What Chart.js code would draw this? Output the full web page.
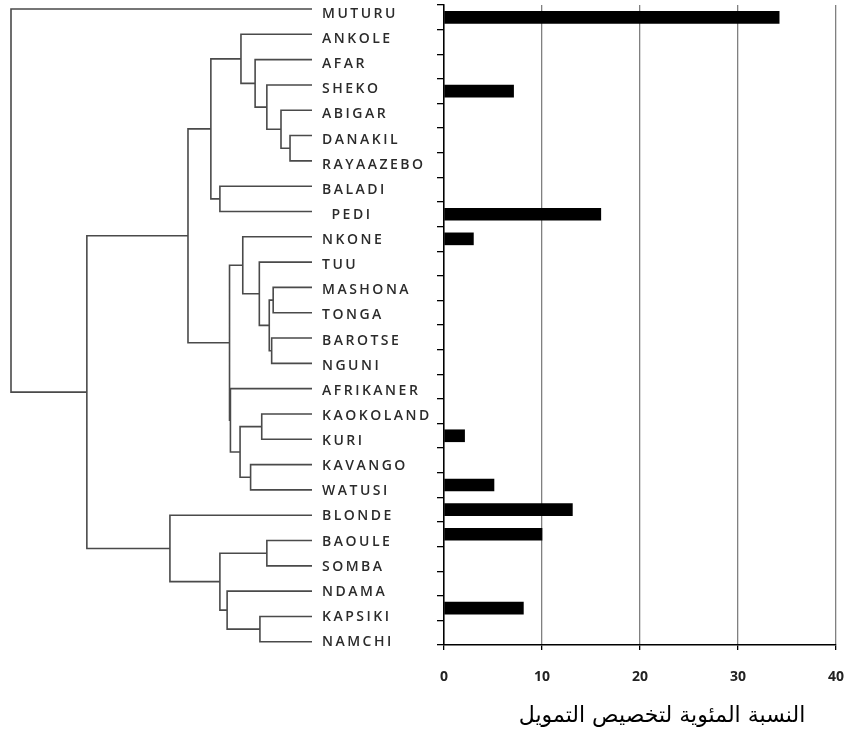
<!DOCTYPE html>
<html>
<head>
<meta charset="utf-8">
<script src="https://cdn.jsdelivr.net/npm/chart.js@4.4.1/dist/chart.umd.min.js"></script>
<style>
  html, body { margin: 0; padding: 0; background: #ffffff; }
  #wrap { position: relative; width: 848px; height: 729px; background: #ffffff; }
  #wrap canvas { position: absolute; left: 0; top: 0; }
</style>
</head>
<body>
<div id="wrap">
  <canvas id="bars" width="848" height="729"></canvas>
  <canvas id="tree" width="848" height="729"></canvas>
</div>
<script>
// ---- data ----
const categories = ['MUTURU','ANKOLE','AFAR','SHEKO','ABIGAR','DANAKIL','RAYAAZEBO','BALADI','PEDI',
  'NKONE','TUU','MASHONA','TONGA','BAROTSE','NGUNI','AFRIKANER','KAOKOLAND','KURI','KAVANGO',
  'WATUSI','BLONDE','BAOULE','SOMBA','NDAMA','KAPSIKI','NAMCHI'];
const allocationPct = [34.2, null, null, 7.1, null, null, null, null, 16.0,
  3.0, null, null, null, null, null, null, null, 2.1, null,
  5.1, 13.1, 10.0, null, null, 8.1, null];
const xTickValues = [0, 10, 20, 30, 40];
const axisTitle = 'النسبة المئوية لتخصيص التمويل';
// dendrogram merges: [child A, child B, height]; strings are leaves, numbers refer to earlier merges
const treeMerges = [
  ['DANAKIL', 'RAYAAZEBO', 7.3],   // 0
  ['ABIGAR', 0, 10.3],             // 1
  ['SHEKO', 1, 15.0],              // 2
  ['AFAR', 2, 18.9],               // 3
  ['ANKOLE', 3, 23.6],             // 4
  ['BALADI', 'PEDI', 30.6],        // 5
  [4, 5, 33.6],                    // 6
  ['MASHONA', 'TONGA', 12.9],      // 7
  ['BAROTSE', 'NGUNI', 13.4],      // 8
  [7, 8, 14.2],                    // 9
  ['TUU', 9, 17.5],                // 10
  ['NKONE', 10, 23.0],             // 11
  ['KAOKOLAND', 'KURI', 16.7],     // 12
  ['KAVANGO', 'WATUSI', 20.4],     // 13
  [12, 13, 23.9],                  // 14
  ['AFRIKANER', 14, 27.1],         // 15
  [11, 15, 27.4],                  // 16
  [6, 16, 41.2],                   // 17
  ['BAOULE', 'SOMBA', 15.0],       // 18
  ['KAPSIKI', 'NAMCHI', 17.3],     // 19
  ['NDAMA', 19, 28.2],             // 20
  [18, 20, 30.6],                  // 21
  ['BLONDE', 21, 47.2],            // 22
  [17, 22, 74.8],                  // 23
  ['MUTURU', 23, 100]              // 24
];

// ---- build dendrogram polyline from merges ----
const nodePos = [];
function childPos(c) {
  if (typeof c === 'string') return { y: categories.indexOf(c), h: 0 };
  return nodePos[c];
}
const treePoints = [];
treeMerges.forEach(([a, b, h]) => {
  const A = childPos(a), B = childPos(b);
  treePoints.push({ x: A.h, y: A.y }, { x: h, y: A.y }, { x: h, y: B.y }, { x: B.h, y: B.y }, { x: null, y: null });
  nodePos.push({ y: (A.y + B.y) / 2, h: h });
});

function noScalePadding(s) {
  s.paddingTop = 0; s.paddingBottom = 0; s.paddingLeft = 0; s.paddingRight = 0;
}

// ---- bar chart ----
new Chart(document.getElementById('bars'), {
  type: 'bar',
  data: {
    labels: categories,
    datasets: [{
      data: allocationPct,
      backgroundColor: '#000000',
      borderWidth: 0,
      barThickness: 12
    }]
  },
  options: {
    indexAxis: 'y',
    responsive: false,
    animation: false,
    layout: { padding: { top: 5, right: 12, left: 0, bottom: 0 } },
    plugins: { legend: { display: false }, tooltip: { enabled: false } },
    scales: {
      x: {
        type: 'linear',
        min: 0, max: 40,
        afterBuildTicks: s => { s.ticks = xTickValues.map(v => ({ value: v })); },
        afterFit: s => { s.height = 84; noScalePadding(s); },
        grid: { color: '#808080', lineWidth: 1.3, tickColor: '#000000', tickLength: 5 },
        border: { color: '#000000', width: 1.5 },
        ticks: {
          color: '#222222', padding: 19,
          font: { family: 'Open Sans', size: 14, weight: 'bold' }
        },
        title: {
          display: true, text: '\u2003\u2003' + axisTitle, color: '#000000',
          font: { family: 'DejaVu Sans', size: 22 },
          padding: { top: 0, bottom: 0 }
        }
      },
      y: {
        type: 'category',
        offset: true,
        afterFit: s => { s.width = 444; noScalePadding(s); },
        grid: { offset: true, drawOnChartArea: false, tickLength: 7, tickColor: '#000000', lineWidth: 1.3 },
        border: { color: '#000000', width: 1.5 },
        ticks: { display: false, autoSkip: false }
      }
    }
  }
});

// ---- dendrogram + labels ----
const spacingPlugin = {
  id: 'labelSpacing',
  beforeDraw(chart) { chart.ctx.letterSpacing = '2.5px'; },
  afterDraw(chart) { chart.ctx.letterSpacing = '0px'; }
};
new Chart(document.getElementById('tree'), {
  type: 'scatter',
  data: {
    datasets: [{
      data: treePoints,
      xAxisID: 'xT', yAxisID: 'yT',
      showLine: true, spanGaps: false,
      borderColor: '#4a4a4a', borderWidth: 1.6,
      borderJoinStyle: 'miter', borderCapStyle: 'butt',
      pointRadius: 0, tension: 0, clip: false
    }]
  },
  options: {
    responsive: false,
    animation: false,
    layout: { padding: { left: 11, top: 1.44, right: 0, bottom: 74.4 } },
    plugins: { legend: { display: false }, tooltip: { enabled: false } },
    scales: {
      xT: { axis: 'x', type: 'linear', display: false, reverse: true, min: 0, max: 100 },
      yT: { axis: 'y', type: 'linear', display: false, reverse: true, min: -0.299, max: 25.507 },
      yL: {
        axis: 'y', type: 'category', position: 'right', labels: categories, offset: true,
        afterFit: s => { s.width = 536; noScalePadding(s); },
        grid: { display: false, drawTicks: false, tickLength: 0 },
        border: { display: false },
        ticks: {
          autoSkip: false, crossAlign: 'near', padding: 10, color: '#2b2b2b',
          font: { family: 'Open Sans', size: 14, weight: '600' },
          callback: (v, i) => (categories[i] === 'PEDI' ? '\u2002' : '') + categories[i]
        }
      }
    }
  },
  plugins: [spacingPlugin]
});
</script>
</body>
</html>
